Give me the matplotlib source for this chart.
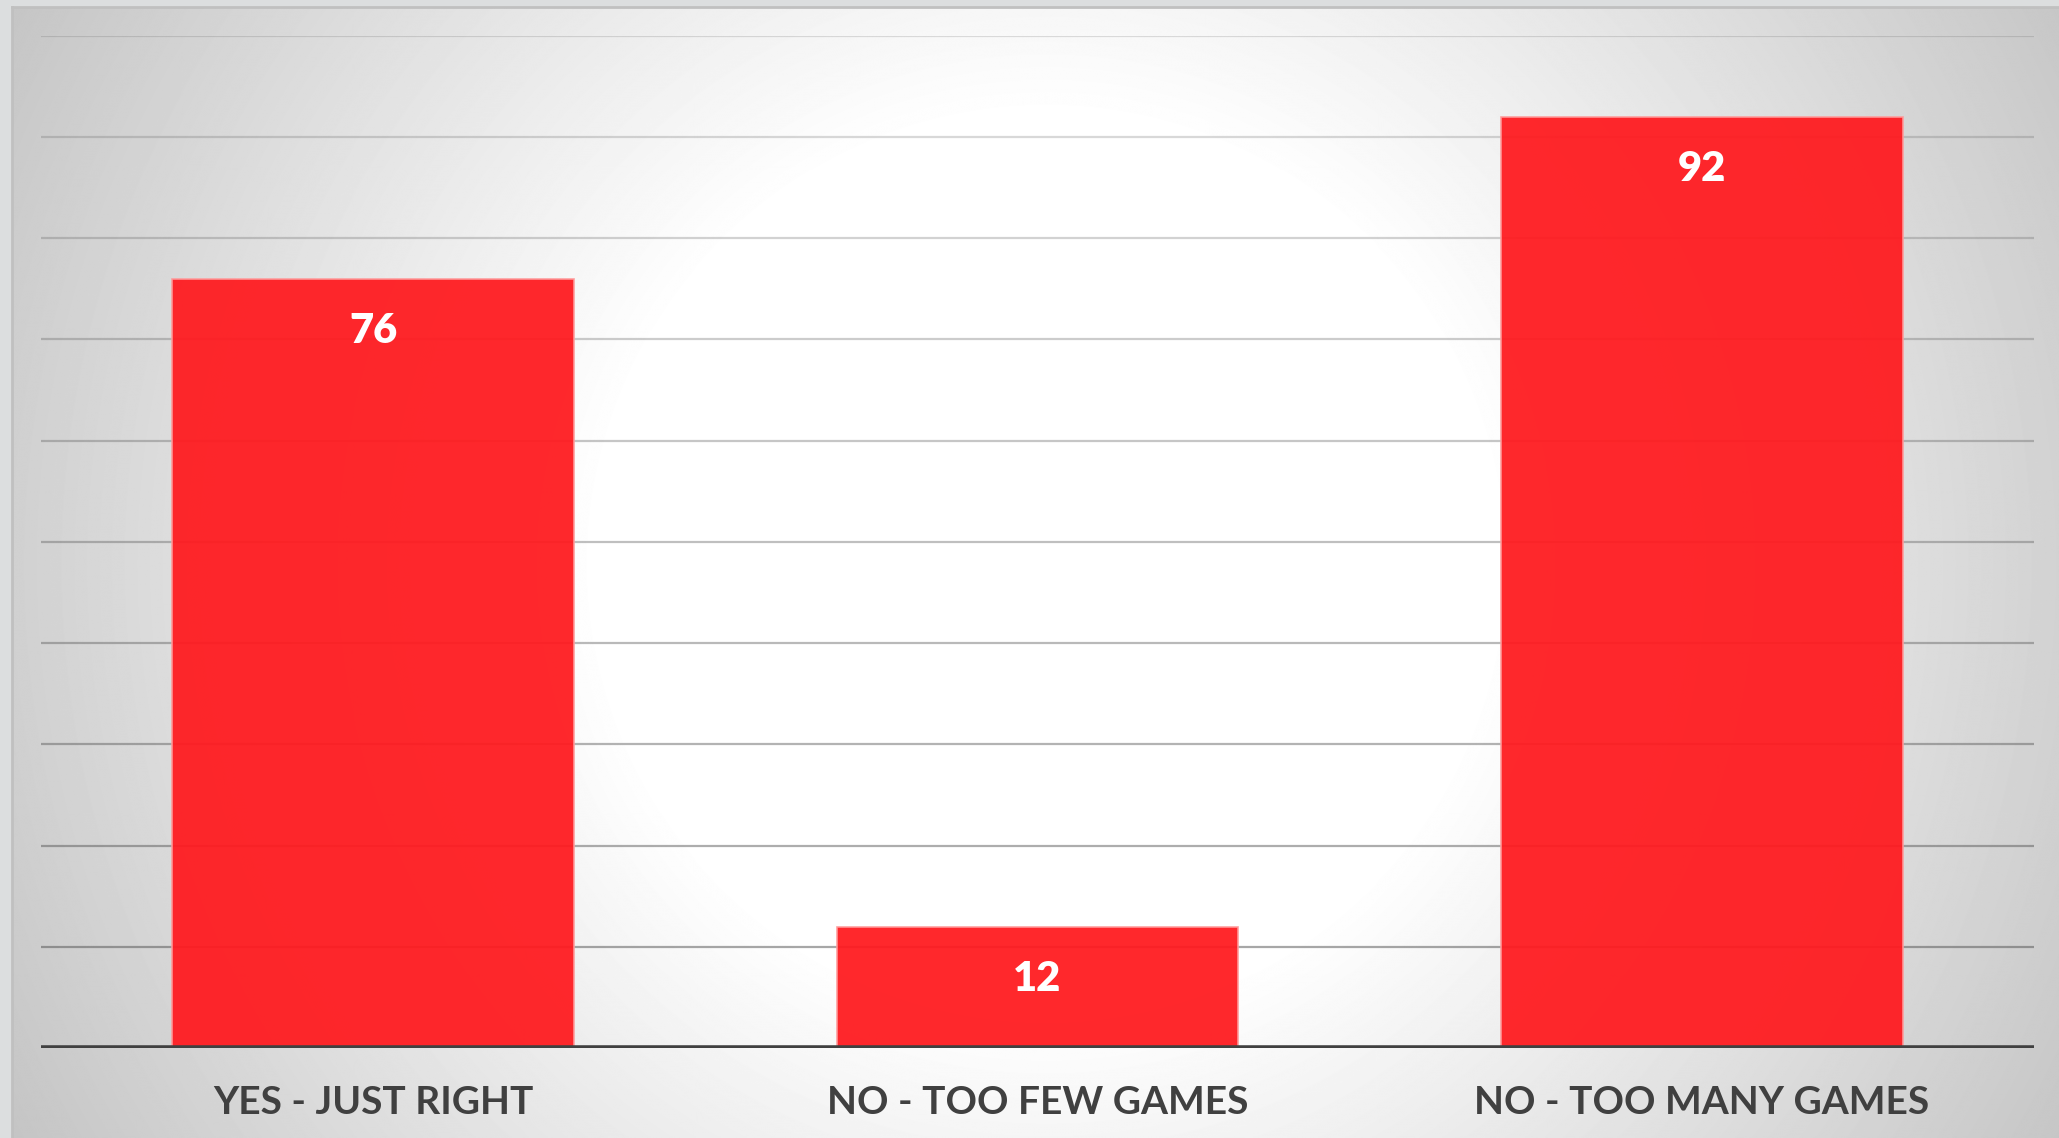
import numpy as np
import matplotlib
matplotlib.use("Agg")
from matplotlib import pyplot as plt

categories = ["YES - JUST RIGHT", "NO - TOO FEW GAMES", "NO - TOO MANY GAMES"]
votes = [76, 12, 92]
grid_levels = [10, 20, 30, 40, 50, 60, 70, 80, 90, 100]

W, H = 2059, 1138
fig = plt.figure(figsize=(W / 100, H / 100), dpi=100)
fig.patch.set_facecolor("#dcdedf")

# slide-style backdrop: white glow in the middle fading to grey at the edges
bg = fig.add_axes([12 / W, 0, 1 - 12 / W, (H - 7) / H])
yy, xx = np.mgrid[0:H, 0:W]
dist = np.hypot(xx - 1040, yy - 560)
shade = 1.0 - 0.23 * np.clip((dist - 450) / 740, 0, 1)
bg.imshow(shade, cmap="gray", vmin=0, vmax=1, aspect="auto", interpolation="bilinear")
bg.set_xticks([])
bg.set_yticks([])
for side in ["right", "bottom"]:
    bg.spines[side].set_visible(False)
for side in ["left", "top"]:
    bg.spines[side].set_color("#c0c0c0")
    bg.spines[side].set_linewidth(2)

ax = fig.add_axes([41 / W, 90 / H, 1993 / W, 1012.5 / H])
ax.patch.set_alpha(0)
ax.set_xlim(-0.5, 2.5)
ax.set_ylim(0, 100)

# gridlines get a touch darker towards the bottom
for i, g in enumerate(grid_levels):
    a = 0.5 - 0.035 * i
    ax.axhline(g, color="#505050", lw=1.6, alpha=a, zorder=1)

x = np.arange(len(categories))
ax.bar(x, votes, width=0.605, color="#ff1a1f", alpha=0.94,
       edgecolor="#ff9a9a", linewidth=1.2, zorder=2)

for xi, v in zip(x, votes):
    ax.annotate(str(v), (xi, v), xytext=(0, -38), textcoords="offset points",
                ha="center", va="center", color="white", fontsize=30,
                fontweight="heavy", family="Lato", zorder=3)

ax.axhline(0, color="#404040", lw=4, zorder=4)

ax.set_xticks(x)
ax.set_xticklabels(categories, fontsize=28, fontweight="bold",
                   family="Lato", color="#404040")
ax.tick_params(axis="x", length=0, pad=27)
ax.set_yticks([])
for s in ax.spines.values():
    s.set_visible(False)

plt.savefig("out.png", dpi=100, facecolor=fig.get_facecolor())
